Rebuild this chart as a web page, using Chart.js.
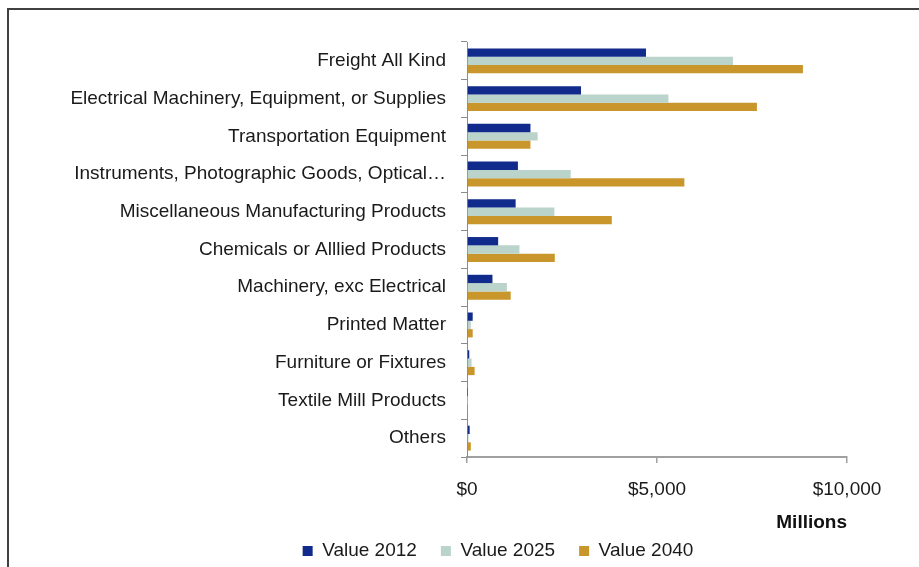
<!DOCTYPE html>
<html>
<head>
<meta charset="utf-8">
<script src="https://cdn.jsdelivr.net/npm/chart.js@4/dist/chart.umd.min.js"></script>
<style>
  html, body { margin: 0; padding: 0; background: #ffffff; }
  #wrap { position: relative; width: 919px; height: 567px; overflow: hidden; background: #fff; }
  #c { position: absolute; left: 0; top: 0; }
  #frame { position: absolute; left: 7px; top: 8px; width: 1000px; height: 1000px; border: 2px solid #404040; pointer-events: none; }
</style>
</head>
<body>
<div id="wrap">
  <canvas id="c" width="919" height="567"></canvas>
  <div id="frame"></div>
</div>
<script>
const categories = [
  "Freight All Kind",
  "Electrical Machinery, Equipment, or Supplies",
  "Transportation Equipment",
  "Instruments, Photographic Goods, Optical…",
  "Miscellaneous Manufacturing Products",
  "Chemicals or Alllied Products",
  "Machinery, exc Electrical",
  "Printed Matter",
  "Furniture or Fixtures",
  "Textile Mill Products",
  "Others"
];
const value2012 = [4710, 3000, 1670, 1340, 1280, 820, 670, 150, 60, 10, 70];
const value2025 = [7000, 5300, 1860, 2730, 2300, 1380, 1050, 100, 120, 5, 40];
const value2040 = [8840, 7630, 1670, 5720, 3810, 2310, 1150, 150, 200, 5, 100];
const seriesNames = ["Value 2012", "Value 2025", "Value 2040"];
const xTicks = [0, 5000, 10000];
const axisTitle = "Millions";

const FONT = "'Liberation Sans', Arial, sans-serif";

const legendShift = {
  id: 'legendShift',
  afterLayout(chart) {
    const lg = chart.legend;
    if (lg) { lg.left = 149; lg.width = lg.right - lg.left; }
  }
};

new Chart(document.getElementById('c'), {
  type: 'bar',
  plugins: [legendShift],
  data: {
    labels: categories,
    datasets: [
      { label: seriesNames[0], data: value2012, backgroundColor: '#102b8c' },
      { label: seriesNames[1], data: value2025, backgroundColor: '#bad3cb' },
      { label: seriesNames[2], data: value2040, backgroundColor: '#c8962a' }
    ]
  },
  options: {
    indexAxis: 'y',
    responsive: false,
    animation: false,
    devicePixelRatio: 1,
    datasets: { bar: { categoryPercentage: 0.66, barPercentage: 1.0, borderWidth: 0 } },
    layout: { padding: { left: 0, right: 72, top: 42, bottom: -3.5 } },
    plugins: {
      tooltip: { enabled: false },
      legend: {
        position: 'bottom',
        align: 'center',
        labels: {
          boxWidth: 10, boxHeight: 10, padding: 24,
          color: '#1a1a1a',
          font: { family: FONT, size: 19 }
        }
      }
    },
    scales: {
      x: {
        type: 'linear',
        min: 0, max: 10000,
        afterBuildTicks: (s) => { s.ticks = xTicks.map(v => ({ value: v })); },
        afterFit: (s) => { s.height = 60.5; },
        grid: { drawOnChartArea: false, drawTicks: true, tickLength: 6, color: '#a0a0a0', lineWidth: 1.5 },
        border: { display: true, color: '#a0a0a0', width: 2 },
        ticks: {
          padding: 15,
          color: '#1a1a1a',
          font: { family: FONT, size: 19 },
          callback: (v) => '$' + Number(v).toLocaleString('en-US')
        },
        title: {
          display: true, text: axisTitle, align: 'end',
          color: '#111',
          font: { family: FONT, size: 19, weight: 'bold' },
          padding: { top: 0, bottom: -17 }
        }
      },
      y: {
        type: 'category',
        afterFit: (s) => { s.width = 467; },
        grid: { drawOnChartArea: false, drawTicks: true, tickLength: 6, offset: true, color: '#8a8a8a', lineWidth: 1 },
        border: { display: true, color: '#8a8a8a', width: 1 },
        ticks: {
          padding: 15,
          autoSkip: false,
          color: '#1a1a1a',
          font: { family: FONT, size: 19 }
        }
      }
    }
  }
});
</script>
</body>
</html>
